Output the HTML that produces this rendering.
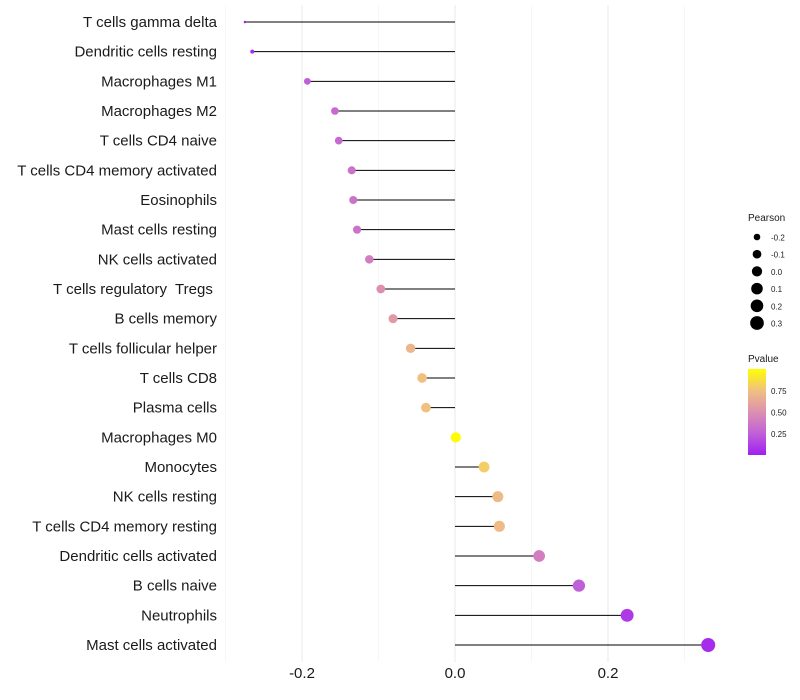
<!DOCTYPE html>
<html><head><meta charset="utf-8"><style>
body{margin:0;background:#fff;}
svg{display:block;font-family:"Liberation Sans",sans-serif;}
text{white-space:pre;}
</style></head><body>
<svg id="chart" width="800" height="700"></svg>
<script>
const categories=["T cells gamma delta","Dendritic cells resting","Macrophages M1","Macrophages M2","T cells CD4 naive","T cells CD4 memory activated","Eosinophils","Mast cells resting","NK cells activated","T cells regulatory  Tregs ","B cells memory","T cells follicular helper","T cells CD8","Plasma cells","Macrophages M0","Monocytes","NK cells resting","T cells CD4 memory resting","Dendritic cells activated","B cells naive","Neutrophils","Mast cells activated"];
const pearson=[-0.2745,-0.265,-0.193,-0.157,-0.152,-0.135,-0.133,-0.128,-0.112,-0.097,-0.081,-0.058,-0.043,-0.038,0.001,0.038,0.056,0.058,0.110,0.162,0.225,0.331];
const pvalues=[0.02,0.05,0.25,0.3,0.3,0.35,0.35,0.35,0.4,0.5,0.55,0.7,0.75,0.75,0.99,0.8,0.72,0.72,0.4,0.25,0.1,0.05];
const xTicks=[-0.2,0.0,0.2];
const xTickLabels=["-0.2","0.0","0.2"];
const sizeLegend=[-0.2,-0.1,0.0,0.1,0.2,0.3];
const sizeLegendLabels=["-0.2","-0.1","0.0","0.1","0.2","0.3"];
const colorLegendLabels=["0.75","0.50","0.25"];
const colorLegendValues=[0.75,0.5,0.25];

const svg=document.getElementById('chart');
const NS='http://www.w3.org/2000/svg';
function mk(t,a){const e=document.createElementNS(NS,t);for(const k in a)e.setAttribute(k,a[k]);svg.appendChild(e);return e;}
const x=v=>455+765*v;
const y=i=>22+i*(623/21);
const vmin=Math.min(...pearson),vmax=Math.max(...pearson);
const r=v=>1.3+5.7*Math.sqrt(Math.max(0,Math.min(1,(v-vmin)/(vmax-vmin))));
const stops=[[0,[160,32,240]],[0.25,[192,96,216]],[0.5,[220,144,176]],[0.75,[240,192,128]],[1,[255,255,0]]];
function col(p){for(let i=1;i<stops.length;i++){if(p<=stops[i][0]){const a=stops[i-1],b=stops[i];const t=(p-a[0])/(b[0]-a[0]);const c=a[1].map((v,k)=>Math.round(v+(b[1][k]-v)*t));return`rgb(${c})`;}}return'rgb(255,255,0)';}

[-0.3,-0.1,0.1,0.3].forEach(v=>{const g=mk('line',{x1:x(v),x2:x(v),y1:5,y2:662,stroke:'#f2f2f2','stroke-width':0.6});

});
xTicks.forEach((v,i)=>{const g=mk('line',{x1:x(v),x2:x(v),y1:5,y2:662,stroke:'#ebebeb','stroke-width':1.1});


const t=mk('text',{x:x(v),y:678,'text-anchor':'middle','font-size':15,fill:'#1a1a1a'});t.textContent=xTickLabels[i];

});

categories.forEach((c,i)=>{
const t=mk('text',{x:217,y:y(i)+5,'text-anchor':'end','font-size':15,fill:'#1a1a1a'});t.textContent=c;


const l=mk('line',{x1:x(0),x2:x(pearson[i]),y1:y(i),y2:y(i),stroke:'#000','stroke-width':1});


const p=mk('circle',{cx:x(pearson[i]),cy:y(i),r:r(pearson[i]),fill:col(pvalues[i])});


});

let t=mk('text',{x:748,y:221,'font-size':10,fill:'#1a1a1a'});t.textContent='Pearson';


sizeLegend.forEach((v,i)=>{const yy=237+i*17.2;
const c=mk('circle',{cx:757,cy:yy,r:r(v),fill:'#000'});


const tt=mk('text',{x:771,y:yy+3.5,'font-size':8,fill:'#1a1a1a'});tt.textContent=sizeLegendLabels[i];

});

t=mk('text',{x:748,y:362,'font-size':10,fill:'#1a1a1a'});t.textContent='Pvalue';


const defs=mk('defs',{});const lg=document.createElementNS(NS,'linearGradient');lg.setAttribute('id','pg');lg.setAttribute('x1','0');lg.setAttribute('y1','1');lg.setAttribute('x2','0');lg.setAttribute('y2','0');defs.appendChild(lg);
stops.forEach(s=>{const st=document.createElementNS(NS,'stop');st.setAttribute('offset',s[0]);st.setAttribute('stop-color',`rgb(${s[1]})`);lg.appendChild(st);});
const bar=mk('rect',{x:748,y:369,width:18,height:86,fill:'url(#pg)'});


colorLegendValues.forEach((v,i)=>{const yy=455-86*v;
const tt=mk('text',{x:771,y:yy+3.5,'font-size':8,fill:'#1a1a1a'});tt.textContent=colorLegendLabels[i];

});
</script>
</body></html>
